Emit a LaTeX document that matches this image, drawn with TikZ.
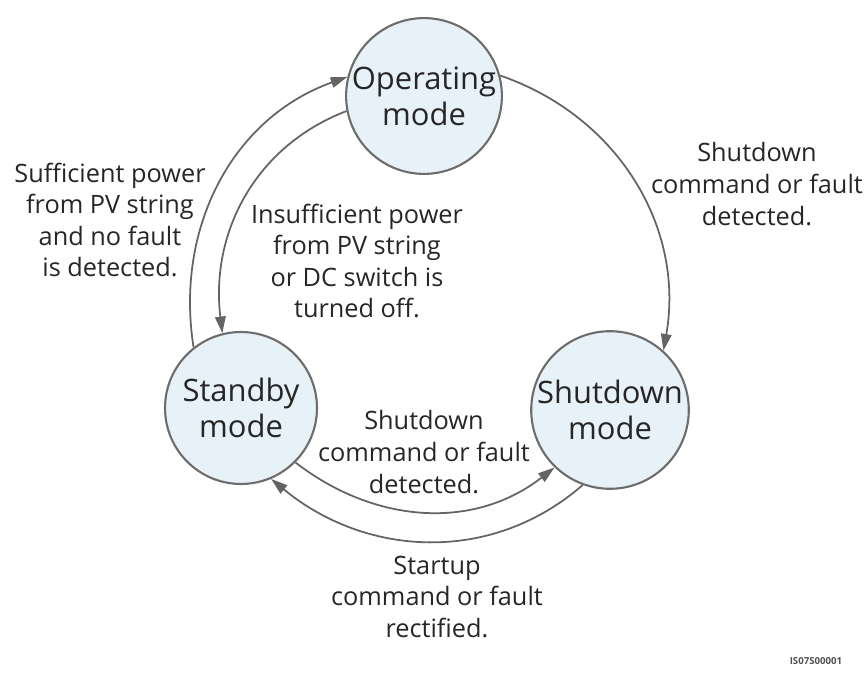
\documentclass[tikz,border=0pt]{standalone}
\usepackage{fontspec}
\setmainfont{Open Sans}
\usetikzlibrary{arrows.meta}
\definecolor{modefill}{RGB}{231,242,248}
\definecolor{modeline}{RGB}{108,108,108}
\definecolor{arcline}{RGB}{100,100,100}
\definecolor{txt}{RGB}{38,38,38}
\tikzset{
  modenode/.style={circle, draw=modeline, line width=1.2pt, fill=modefill,
    minimum size=3.04cm, inner sep=0pt, align=center, text=txt,
    font=\fontsize{17.6}{20.5}\selectfont},
  lbl/.style={align=center, text=txt, inner sep=0pt,
    font=\fontsize{14.4}{18}\selectfont},
  arr/.style={draw=arcline, line width=1pt,
    -{Triangle[length=9.5pt,width=6pt]}},
}
\begin{document}
\begin{tikzpicture}[x=0.02cm,y=-0.02cm]
\useasboundingbox (0,0) rectangle (866,675);
\node[modenode] (op) at (424,96) {Operating\\mode};
\node[modenode] (sb) at (241,408) {Standby\\mode};
\node[modenode] (sd) at (610,410) {Shutdown\\mode};

\draw[arr] (sb.128) to[out=99,in=199.6] (op.166);
\draw[arr] (op.15) to[out=-19,in=80] (sd.48);
\draw[arr] (sd.-110) to[out=221,in=-39.5] (sb.-67);
\draw[arr] (op.191) to[out=201,in=97] (sb.104);
\draw[arr] (sb.-45) to[out=-37.7,in=218] (sd.-134);

\node[lbl] (l1) at (110,220) {Sufficient power\\from PV string\\and no fault\\is detected.};
\node[lbl] (l2) at (357,261) {Insufficient power\\from PV string\\or DC switch is\\turned off.};
\node[lbl] (l3) at (757,184) {Shutdown\\command or fault\\detected.};
\node[lbl] (l4) at (424,452) {Shutdown\\command or fault\\detected.};
\node[lbl] (l5) at (437,597) {Startup\\command or fault\\rectified.};
\node[text=txt!80, inner sep=0pt, font=\fontsize{5.5}{6}\selectfont\bfseries] (id) at (816,661) {IS07S00001};
\end{tikzpicture}
\end{document}
